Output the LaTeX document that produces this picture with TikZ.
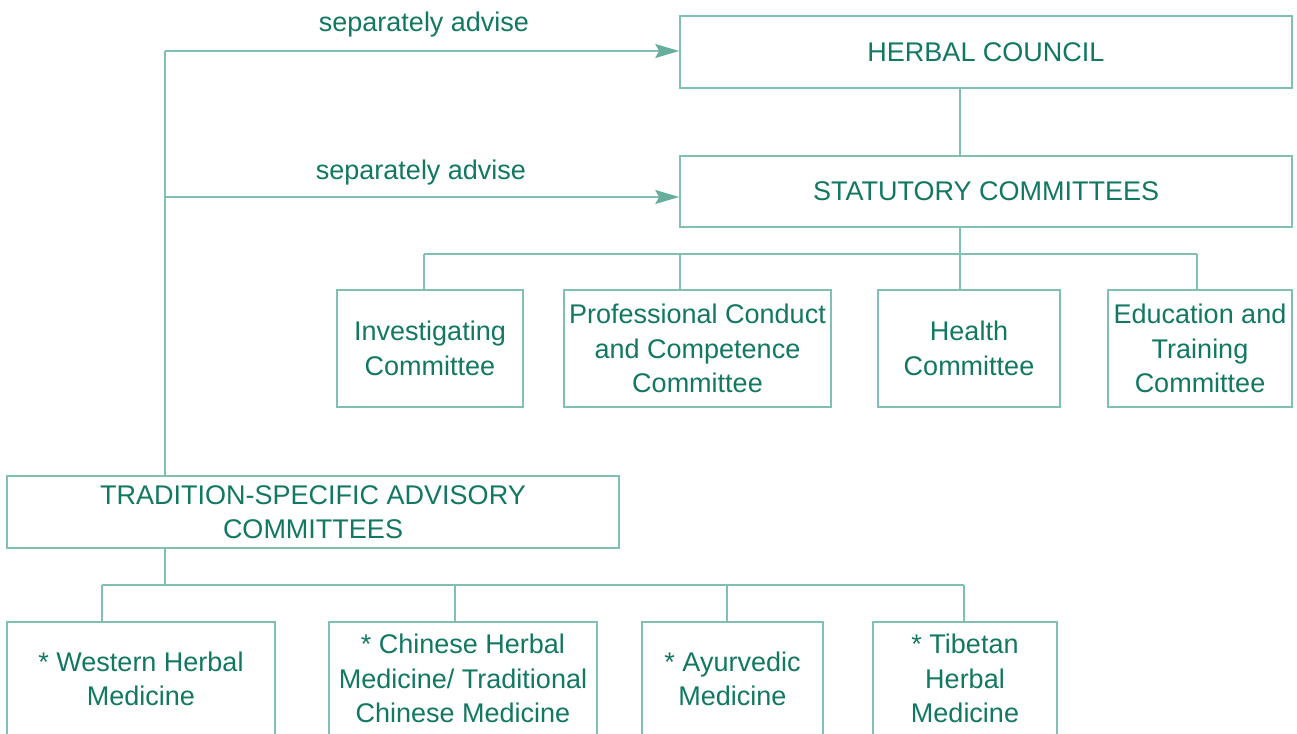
\documentclass[tikz,border=0pt]{standalone}
\usepackage{fontspec}
\setmainfont{Liberation Sans}
\usetikzlibrary{arrows.meta}
\definecolor{textc}{RGB}{18,120,98}
\definecolor{linec}{RGB}{128,192,180}
\definecolor{arrowc}{RGB}{104,174,158}
\tikzset{
  box/.style={draw=linec, line width=1.6pt, text=textc, align=center, inner sep=2pt,
    font=\fontsize{27}{34.5}\selectfont},
  conn/.style={draw=linec, line width=1.6pt},
  arr/.style={conn, -{Stealth[length=24pt,width=14pt,inset=4pt,color=arrowc]}},
  lbl/.style={text=textc, inner sep=0pt, font=\fontsize{27}{34.5}\selectfont}
}
\begin{document}
\begin{tikzpicture}[x=1pt,y=-1pt]
\useasboundingbox (0,0) rectangle (1297,733);
\clip (0,0) rectangle (1297,733);
\fill[white] (0,0) rectangle (1297,733);
% top boxes
\node[box, minimum width=612, minimum height=72] (hc) at (986,52) {HERBAL COUNCIL};
\node[box, minimum width=612, minimum height=71] (sc) at (986,191.5) {STATUTORY COMMITTEES};
% statutory sub-committees
\node[box, minimum width=186, minimum height=117] (inv) at (430,348.5) {Investigating\\Committee};
\node[box, minimum width=267, minimum height=117] (pcc) at (697.5,348.5) {Professional Conduct\\and Competence\\Committee};
\node[box, minimum width=182, minimum height=117] (hlt) at (969,348.5) {Health\\Committee};
\node[box, minimum width=184, minimum height=117] (edu) at (1200,348.5) {Education and\\Training\\Committee};
% tradition-specific
\node[box, minimum width=612, minimum height=72] (tsac) at (313,512) {TRADITION-SPECIFIC ADVISORY\\COMMITTEES};
\node[box, anchor=north, minimum width=268, minimum height=114] (wes) at (141,621) {* Western Herbal\\Medicine};
\node[box, anchor=north, minimum width=268, minimum height=114] (chi) at (463,621) {* Chinese Herbal\\Medicine/ Traditional\\Chinese Medicine};
\node[box, anchor=north, minimum width=181, minimum height=114] (ayu) at (732.5,621) {* Ayurvedic\\Medicine};
\node[box, anchor=north, minimum width=184, minimum height=114] (tib) at (965,621) {* Tibetan\\Herbal\\Medicine};
% bus coordinates
\coordinate (d1) at (424,254);
\coordinate (d2) at (680,254);
\coordinate (d3) at (960,254);
\coordinate (d4) at (1197,254);
\coordinate (b0) at (165,585);
\coordinate (b1) at (102,585);
\coordinate (b2) at (455,585);
\coordinate (b3) at (727,585);
\coordinate (b4) at (964,585);
\coordinate (L1) at (165,51);
\coordinate (L2) at (165,197);
% statutory connectors
\draw[conn] (hc.south -| d3) -- (sc.north -| d3);
\draw[conn] (sc.south -| d3) -- (d3);
\draw[conn] (d1) -- (d4);
\draw[conn] (d1) -- (d1 |- inv.north);
\draw[conn] (d2) -- (d2 |- pcc.north);
\draw[conn] (d3) -- (d3 |- hlt.north);
\draw[conn] (d4) -- (d4 |- edu.north);
% advisory connectors
\draw[conn] (tsac.north -| L1) -- (L1);
\draw[arr] (L1) -- (L1 -| hc.west);
\draw[arr] (L2) -- (L2 -| sc.west);
\node[lbl, anchor=base] (lab1) at (424,32) {separately advise};
\node[lbl, anchor=base] (lab2) at (421,179) {separately advise};
\draw[conn] (tsac.south -| b0) -- (b0);
\draw[conn] (b1) -- (b4);
\draw[conn] (b1) -- (b1 |- wes.north);
\draw[conn] (b2) -- (b2 |- chi.north);
\draw[conn] (b3) -- (b3 |- ayu.north);
\draw[conn] (b4) -- (b4 |- tib.north);
\end{tikzpicture}
\end{document}
